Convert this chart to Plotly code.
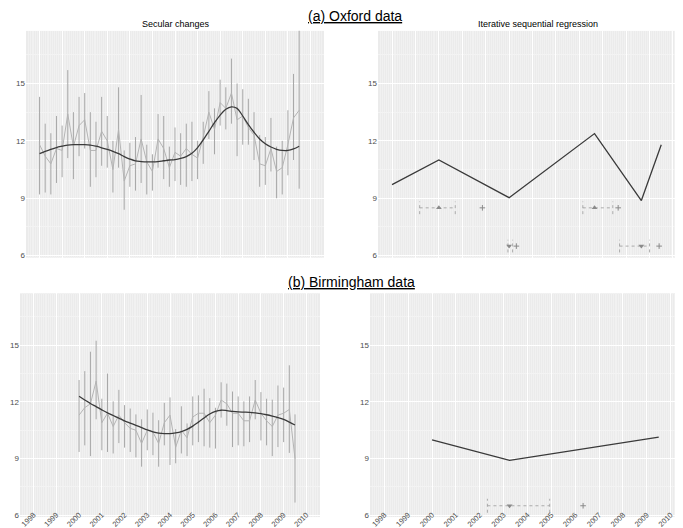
import plotly.graph_objects as go

# ---------------- data ----------------
TICK_YEARS = [1998, 1999, 2000, 2001, 2002, 2003, 2004, 2005, 2006, 2007, 2008, 2009, 2010]
TICK_LABELS = [str(y) for y in TICK_YEARS]

# Oxford secular changes (quarterly 1998.00 .. 2009.50)
ox_t = [1998 + 0.25 * i for i in range(47)]
ox_val = [11.8, 11.2, 10.8, 11.6, 11.5, 13.4, 11.7, 12.8, 13.1, 11.5, 11.5, 12.5, 12.0, 10.5, 12.6, 9.9,
          10.7, 10.8, 12.1, 10.9, 10.4, 12.1, 11.6, 10.6, 11.4, 11.2, 11.6, 11.3, 11.1, 12.2, 13.5, 12.6,
          14.0, 13.7, 14.5, 13.1, 13.3, 12.7, 12.3, 10.8, 10.7, 11.6, 10.4, 10.6, 11.8, 13.2, 13.6]
ox_hi = [14.3, 12.9, 12.4, 13.3, 12.8, 15.7, 13.5, 14.3, 14.5, 13.5, 13.0, 14.3, 13.3, 12.0, 14.8, 11.5,
         11.9, 12.2, 14.4, 11.8, 11.3, 13.4, 13.3, 11.7, 12.7, 12.4, 12.9, 13.0, 12.0, 13.0, 14.6, 13.7,
         15.2, 14.8, 16.3, 15.0, 14.7, 14.2, 13.5, 12.3, 12.2, 13.2, 11.7, 12.0, 13.6, 15.5, 18.5]
ox_lo = [9.2, 9.3, 9.2, 9.8, 10.1, 11.1, 10.0, 11.2, 11.6, 9.6, 10.1, 10.7, 10.6, 9.3, 10.6, 8.4,
         9.6, 9.4, 9.8, 9.2, 9.4, 10.6, 10.0, 9.6, 9.9, 9.7, 9.6, 9.9, 10.0, 10.8, 12.1, 11.3,
         12.8, 12.6, 12.9, 11.2, 11.8, 11.8, 11.0, 9.6, 9.7, 10.4, 9.0, 9.2, 10.2, 11.0, 9.5]
ox_smooth = [11.33, 11.45, 11.55, 11.65, 11.72, 11.78, 11.80, 11.80, 11.80, 11.78, 11.72, 11.64, 11.55,
             11.45, 11.33, 11.18, 11.05, 10.95, 10.92, 10.90, 10.90, 10.92, 10.96, 11.00, 11.02, 11.08,
             11.18, 11.35, 11.65, 12.05, 12.50, 12.95, 13.35, 13.65, 13.78, 13.70, 13.30, 12.85, 12.45,
             12.10, 11.85, 11.68, 11.56, 11.50, 11.50, 11.58, 11.72]

# Oxford iterative sequential regression
ox_isr_t = [1998.0, 2000.0, 2003.0, 2006.65, 2008.65, 2009.5]
ox_isr_v = [9.71, 11.0, 9.03, 12.38, 8.88, 11.8]
ox_up_t = [2000.0, 2006.65]
ox_up_v = [8.5, 8.5]
ox_up_lo = [1999.18, 2006.15]
ox_up_hi = [2000.70, 2007.43]
ox_up_plus = [2001.86, 2007.66]
ox_dn_t = [2003.0, 2008.65]
ox_dn_v = [6.5, 6.5]
ox_dn_lo = [2002.95, 2007.72]
ox_dn_hi = [2003.15, 2009.0]
ox_dn_plus = [2003.31, 2009.41]

# Birmingham secular changes (quarterly 2000.00 .. 2009.50)
bm_t = [2000 + 0.25 * i for i in range(39)]
bm_val = [11.3, 11.7, 11.9, 13.1, 10.9, 11.4, 10.7, 11.3, 10.9, 10.6, 10.5, 9.8, 10.5, 10.4, 9.8, 10.9,
          11.3, 9.6, 10.5, 10.1, 11.2, 11.4, 11.4, 10.9, 11.3, 12.1, 11.9, 11.4, 11.4, 11.0, 11.0, 12.1,
          11.4, 11.0, 10.7, 11.3, 11.4, 11.6, 9.0]
bm_hi = [13.16, 13.63, 14.66, 15.24, 12.17, 13.5, 12.03, 12.64, 11.83, 11.65, 11.34, 11.08, 11.6, 11.43,
         11.03, 11.95, 12.24, 10.56, 11.77, 10.86, 12.29, 12.35, 12.7, 12.2, 11.69, 13.04, 12.97, 12.55,
         12.29, 12.03, 12.29, 13.16, 12.52, 12.17, 12.12, 12.87, 12.76, 13.94, 11.34]
bm_lo = [9.35, 9.7, 9.13, 11.08, 9.44, 9.35, 9.27, 9.82, 9.58, 9.35, 9.06, 8.57, 9.44, 9.18, 8.57, 9.7,
         8.66, 8.75, 9.27, 9.13, 9.7, 9.87, 9.65, 9.58, 9.53, 11.17, 10.74, 9.61, 9.7, 9.65, 9.87, 11.08,
         9.96, 9.7, 9.13, 9.61, 9.87, 9.3, 6.67]
bm_smooth = [12.30, 12.10, 11.92, 11.75, 11.58, 11.42, 11.28, 11.14, 11.00, 10.88, 10.76, 10.64, 10.52,
             10.42, 10.35, 10.32, 10.32, 10.36, 10.43, 10.55, 10.72, 10.93, 11.15, 11.36, 11.50, 11.56,
             11.54, 11.50, 11.47, 11.46, 11.45, 11.42, 11.38, 11.32, 11.25, 11.17, 11.07, 10.93, 10.78]

# Birmingham iterative sequential regression
bm_isr_t = [2000.0, 2003.25, 2009.5]
bm_isr_v = [9.99, 8.9, 10.14]
bm_dn_t = [2003.25]
bm_dn_v = [6.5]
bm_dn_lo = [2002.32]
bm_dn_hi = [2004.93]
bm_dn_plus = [2006.33]

# ---------------- styling ----------------
FONT = "Liberation Sans"
BG = "#EBEBEB"
LIGHT = "#B4B4B4"
BAR = "#A8A8A8"
DARK = "#3A3A3A"
MARK = "#8A8A8A"

fig = go.Figure()


def seg_xy(xs, lo, hi):
    X, Y = [], []
    for x, a, b in zip(xs, lo, hi):
        X += [x, x, None]
        Y += [a, b, None]
    return X, Y


def add_secular(t, val, lo, hi, smooth, xa, ya):
    X, Y = seg_xy(t, lo, hi)
    fig.add_trace(go.Scatter(x=X, y=Y, mode="lines", line=dict(color=BAR, width=1),
                             xaxis=xa, yaxis=ya, hoverinfo="skip", showlegend=False))
    fig.add_trace(go.Scatter(x=t, y=val, mode="lines", line=dict(color=LIGHT, width=1),
                             xaxis=xa, yaxis=ya, showlegend=False))
    fig.add_trace(go.Scatter(x=t, y=smooth, mode="lines", line=dict(color=DARK, width=1.3, shape="spline"),
                             xaxis=xa, yaxis=ya, showlegend=False))


def add_ci(tc, v, lo, hi, plus, symbol, xa, ya, cap):
    X, Y = [], []
    for a, b, yy in zip(lo, hi, v):
        X += [a, b, None, a, a, None, b, b, None]
        Y += [yy, yy, None, yy - cap, yy + cap, None, yy - cap, yy + cap, None]
    fig.add_trace(go.Scatter(x=X, y=Y, mode="lines", line=dict(color="#9A9A9A", width=0.8, dash="dot"),
                             xaxis=xa, yaxis=ya, hoverinfo="skip", showlegend=False))
    fig.add_trace(go.Scatter(x=tc, y=v, mode="markers",
                             marker=dict(symbol=symbol, size=5, color=MARK),
                             xaxis=xa, yaxis=ya, showlegend=False))
    fig.add_trace(go.Scatter(x=plus, y=v, mode="markers",
                             marker=dict(symbol="cross-thin", size=4, color=MARK,
                                         line=dict(color=MARK, width=1)),
                             xaxis=xa, yaxis=ya, showlegend=False))


# Top-left
add_secular(ox_t, ox_val, ox_lo, ox_hi, ox_smooth, "x", "y")
# Top-right
fig.add_trace(go.Scatter(x=ox_isr_t, y=ox_isr_v, mode="lines", line=dict(color=DARK, width=1.3),
                         xaxis="x2", yaxis="y2", showlegend=False))
add_ci(ox_up_t, ox_up_v, ox_up_lo, ox_up_hi, ox_up_plus, "triangle-up", "x2", "y2", 0.33)
add_ci(ox_dn_t, ox_dn_v, ox_dn_lo, ox_dn_hi, ox_dn_plus, "triangle-down", "x2", "y2", 0.33)
# Bottom-left
add_secular(bm_t, bm_val, bm_lo, bm_hi, bm_smooth, "x3", "y3")
# Bottom-right
fig.add_trace(go.Scatter(x=bm_isr_t, y=bm_isr_v, mode="lines", line=dict(color=DARK, width=1.3),
                         xaxis="x4", yaxis="y4", showlegend=False))
add_ci(bm_dn_t, bm_dn_v, bm_dn_lo, bm_dn_hi, bm_dn_plus, "triangle-down", "x4", "y4", 0.37)

W, H = 683, 528


def px_dom(a, b, total):
    return [a / total, b / total]


def ydom(top, bottom):
    return [1 - bottom / H, 1 - top / H]


XR = [1997.4, 2010.6]
YR = [5.9, 17.75]


def xaxis(dom, labels, anchor):
    return dict(domain=dom, range=XR, anchor=anchor, tickmode="array", tickvals=TICK_YEARS,
                ticktext=TICK_LABELS, showticklabels=labels, tickangle=-45,
                tickfont=dict(family=FONT, size=7.5, color="#4D4D4D"), ticklabelstandoff=-9,
                showgrid=True, gridcolor="#FFFFFF", gridwidth=1, zeroline=False, showline=False,
                ticks="", fixedrange=True,
                minor=dict(tick0=1998, dtick=1 / 12, showgrid=True, gridcolor="#F1F1F1", gridwidth=0.6))


def yaxis(dom, anchor):
    return dict(domain=dom, range=YR, anchor=anchor, tickmode="array", tickvals=[6, 9, 12, 15],
                ticktext=["6", "9", "12", "15"],
                tickfont=dict(family=FONT, size=8, color="#4D4D4D"),
                showgrid=True, gridcolor="#FFFFFF", gridwidth=1, zeroline=False, showline=False,
                ticks="", fixedrange=True,
                minor=dict(tick0=7.5, dtick=3, showgrid=True, gridcolor="#F3F3F3", gridwidth=0.6))


fig.update_layout(
    width=W, height=H, margin=dict(l=0, r=0, t=0, b=0),
    paper_bgcolor="white", plot_bgcolor=BG, showlegend=False,
    font=dict(family=FONT, color="black"),
    xaxis=xaxis(px_dom(18, 316, W), False, "y"),
    yaxis=yaxis(ydom(23, 251), "x"),
    xaxis2=xaxis(px_dom(370, 679, W), False, "y2"),
    yaxis2=yaxis(ydom(23, 251), "x2"),
    xaxis3=xaxis(px_dom(12, 312, W), True, "y3"),
    yaxis3=yaxis(ydom(287, 512), "x3"),
    xaxis4=xaxis(px_dom(362, 677, W), True, "y4"),
    yaxis4=yaxis(ydom(287, 512), "x4"),
    annotations=[
        dict(text="<u>(a) Oxford data</u>", x=347 / W, y=1 - 8 / H, xref="paper", yref="paper",
             showarrow=False, font=dict(family=FONT, size=14, color="black"), xanchor="center", yanchor="middle"),
        dict(text="Secular changes", x=168 / W, y=1 - 16 / H, xref="paper", yref="paper",
             showarrow=False, font=dict(family=FONT, size=9, color="black"), xanchor="center", yanchor="middle"),
        dict(text="Iterative sequential regression", x=530 / W, y=1 - 16 / H, xref="paper", yref="paper",
             showarrow=False, font=dict(family=FONT, size=9, color="black"), xanchor="center", yanchor="middle"),
        dict(text="<u>(b) Birmingham data</u>", x=343 / W, y=1 - 276 / H, xref="paper", yref="paper",
             showarrow=False, font=dict(family=FONT, size=14, color="black"), xanchor="center", yanchor="middle"),
    ],
)

fig.write_html("out.html")
